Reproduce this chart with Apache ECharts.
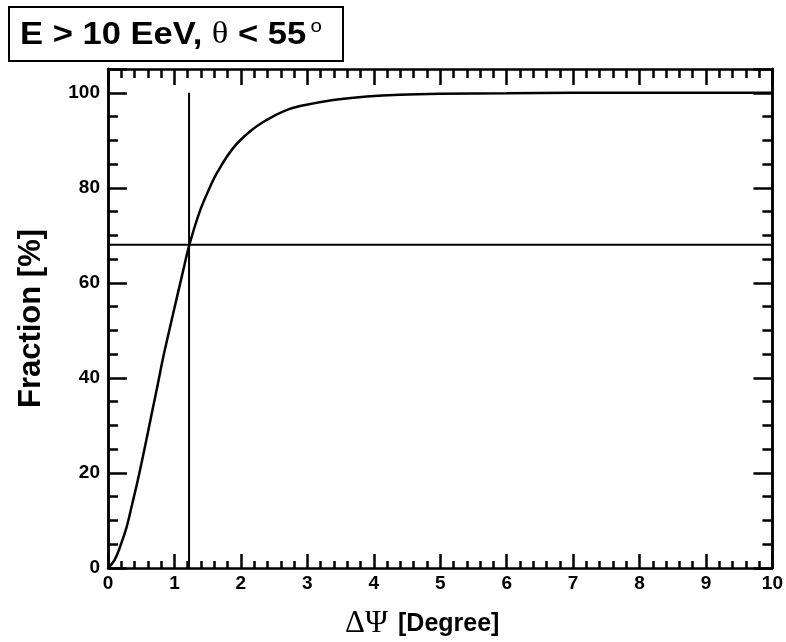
<!DOCTYPE html>
<html>
<head>
<meta charset="utf-8">
<script src="https://cdn.jsdelivr.net/npm/echarts@6/dist/echarts.min.js"></script>
<style>
html,body{margin:0;padding:0;background:#fff;}
#main{width:786px;height:642px;}
</style>
</head>
<body>
<div id="main"></div>
<script>
// Cumulative fraction vs angular deviation
var psiValues = [0, 0.1, 0.2, 0.28, 0.36, 0.46, 0.56, 0.66, 0.76, 0.83, 0.98, 1.13, 1.22, 1.38, 1.53, 1.63, 1.88, 2.14, 2.39, 2.64, 2.89, 3.39, 3.89, 4.39, 5, 6, 7, 8, 9, 10];
var fractionValues = [0, 1.7, 5.2, 8.6, 13.2, 19.2, 25.8, 32.6, 39.4, 44.3, 53.5, 62.5, 67.8, 75, 80, 82.9, 88.3, 91.9, 94.3, 96.1, 97.2, 98.5, 99.2, 99.6, 99.8, 99.9, 100, 100, 100, 100];
var cutPsi = 1.22;     // 68% containment angle
var cutFraction = 68;
var xTickLabels = ['0','1','2','3','4','5','6','7','8','9','10'];
var yTickLabels = ['0','20','40','60','80','100'];
var titleParts = ['E > 10 EeV, ', '\u03B8', ' < 55', 'o'];
var xNameParts = ['\u0394\u03A8', '[Degree]'];
var yName = 'Fraction [%]';

var curve = psiValues.map(function (x, i) { return [x, fractionValues[i]]; });

var chart = echarts.init(document.getElementById('main'), null, {renderer: 'canvas'});
var SANS = '"Liberation Sans", Arial, Helvetica, sans-serif';
var SERIF = '"Liberation Serif", "Times New Roman", serif';
var black = '#000';

function xAxisCfg(pos, majorLen, minorLen, showLabel) {
  return {
    type: 'value', position: pos, min: 0, max: 10, interval: 1,
    axisLine: {show: true, onZero: false, lineStyle: {color: black, width: 2.5}},
    axisTick: {show: true, inside: true, length: majorLen, lineStyle: {color: black, width: 2.5}},
    minorTick: {show: true, splitNumber: 5, length: minorLen, lineStyle: {color: black, width: 2.5}},
    splitLine: {show: false}, minorSplitLine: {show: false},
    axisLabel: {show: showLabel, color: black, fontFamily: SANS, fontWeight: 'bold', fontSize: 19, margin: 6,
      formatter: function (v) { var i = xTickLabels.indexOf(String(v)); return i >= 0 ? xTickLabels[i] : ''; }}
  };
}
function yAxisCfg(pos, interval, tickLen, showLabel, name) {
  return {
    type: 'value', position: pos, min: 0, max: 105, interval: interval,
    axisLine: {show: true, onZero: false, lineStyle: {color: black, width: 2.5}},
    axisTick: {show: true, inside: true, length: tickLen, lineStyle: {color: black, width: 2.5}},
    splitLine: {show: false},
    axisLabel: {show: showLabel, color: black, fontFamily: SANS, fontWeight: 'bold', fontSize: 19, margin: 8,
      formatter: function (v) { var i = yTickLabels.indexOf(String(v)); return i >= 0 ? yTickLabels[i] : ''; }},
    name: name || '',
    nameLocation: 'middle', nameGap: 61, nameRotate: 90,
    nameTextStyle: {fontFamily: SANS, fontWeight: 'bold', fontSize: 31, color: black}
  };
}

function txt(s, x, y, font, align) {
  return {type: 'text', x: x, y: y, z: 11,
    style: {text: s, font: font, fill: black, align: align || 'left', verticalAlign: 'middle'}};
}

var option = {
  backgroundColor: '#fff',
  animation: false,
  grid: {left: 108, right: 13, top: 69, bottom: 74, containLabel: false},
  xAxis: [xAxisCfg('bottom', 14, 7, true), xAxisCfg('top', 16, 9, false)],
  yAxis: [
    yAxisCfg('left', 20, 19, true, yName),
    yAxisCfg('left', 5, 10, false),
    yAxisCfg('right', 20, 19, false),
    yAxisCfg('right', 5, 10, false)
  ],
  series: [
    {type: 'line', xAxisIndex: 0, yAxisIndex: 0, data: curve, smooth: 0.4, showSymbol: false,
     lineStyle: {color: black, width: 2.5}},
    {type: 'line', xAxisIndex: 0, yAxisIndex: 0, data: [[cutPsi, 0], [cutPsi, 100]], showSymbol: false,
     lineStyle: {color: black, width: 2}},
    {type: 'line', xAxisIndex: 0, yAxisIndex: 0, data: [[0, cutFraction], [10, cutFraction]], showSymbol: false,
     lineStyle: {color: black, width: 2}}
  ],
  graphic: [
    {type: 'rect', x: 9, y: 7, shape: {x: 0, y: 0, width: 334, height: 54},
     style: {fill: '#fff', stroke: black, lineWidth: 2}, z: 10},
    {type: 'text', x: 20, y: 35, z: 11, scaleX: 1.08,
     style: {
       text: '{b|' + titleParts[0] + '}{t|' + titleParts[1] + '}{b|' + titleParts[2] + '}{o|' + titleParts[3] + '}',
       verticalAlign: 'middle',
       rich: {
         b: {font: 'bold 32px ' + SANS, fill: black, lineHeight: 36, verticalAlign: 'middle'},
         t: {font: '32px ' + SERIF, fill: black, lineHeight: 36, verticalAlign: 'middle'},
         o: {font: '19px ' + SANS, fill: black, lineHeight: 36, verticalAlign: 'top', padding: [0, 0, 0, 4]}
       }
     }},
    txt(xNameParts[0], 345, 624, '31px ' + SERIF),
    txt(xNameParts[1], 398, 624, 'bold 25px ' + SANS)
  ]
};
chart.setOption(option);
</script>
</body>
</html>
